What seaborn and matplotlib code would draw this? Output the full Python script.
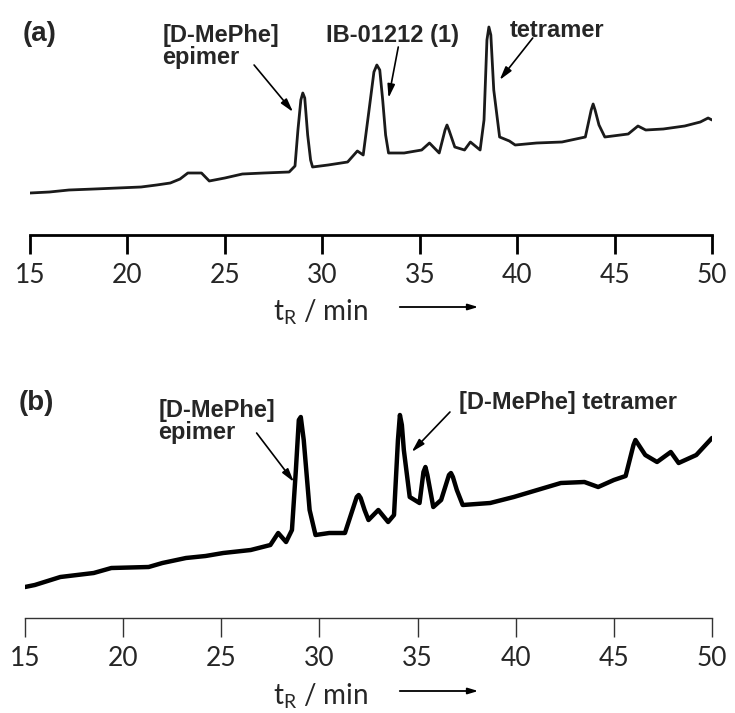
import matplotlib
matplotlib.use("Agg")
import matplotlib.pyplot as plt
from matplotlib.patches import FancyArrowPatch
import seaborn as sns

# 크로마토그램 데이터 (그림에서 읽은 값, 임의 단위)
t_a = [15.0, 16.0, 17.0, 18.3, 19.5, 20.7, 21.5, 22.2, 22.7, 23.1, 23.8, 24.2, 25.0, 25.9,
       27.0, 28.3, 28.6, 28.75, 28.9, 29.0, 29.1, 29.25, 29.4, 29.5, 30.3, 31.3, 31.8, 32.1,
       32.4, 32.65, 32.8, 32.95, 33.1, 33.25, 33.4, 34.2, 35.1, 35.5, 36.0, 36.3, 36.4, 36.5,
       36.8, 37.3, 37.6, 38.1, 38.3, 38.45, 38.55, 38.65, 38.8, 39.1, 39.6, 39.9, 41.0, 42.3,
       43.5, 43.8, 43.9, 44.0, 44.2, 44.5, 45.7, 46.2, 46.6, 47.5, 48.6, 49.4, 49.8, 50.0]
sig_a = [7, 8, 10, 11, 12, 13, 15, 17, 21, 27, 27, 19, 22, 26,
         27, 28, 34, 70, 100, 107, 102, 65, 40, 33, 35, 38, 49, 45,
         90, 128, 135, 130, 100, 65, 47, 47, 50, 57, 47, 70, 75, 70,
         53, 50, 58, 50, 80, 160, 173, 165, 110, 63, 59, 55, 57, 58,
         63, 90, 96, 90, 75, 63, 66, 74, 70, 71, 74, 78, 82, 80]

t_b = [15.0, 15.5, 16.8, 18.5, 19.4, 21.3, 22.0, 23.2, 24.2, 25.1, 26.5, 27.5, 27.9, 28.3,
       28.6, 28.8, 28.95, 29.05, 29.2, 29.5, 29.8, 30.5, 31.3, 31.6, 31.9, 32.0, 32.1, 32.3,
       32.5, 33.0, 33.5, 33.8, 34.0, 34.1, 34.2, 34.3, 34.6, 35.1, 35.3, 35.4, 35.5, 35.8,
       36.2, 36.6, 36.7, 36.8, 37.0, 37.3, 38.7, 39.9, 41.1, 42.3, 43.5, 44.2, 45.0, 45.6,
       46.0, 46.1, 46.6, 47.2, 47.9, 48.3, 49.2, 50.0]
sig_b = [13, 15, 23, 27, 32, 33, 37, 42, 44, 47, 50, 55, 67, 58,
         70, 130, 180, 183, 160, 90, 65, 67, 67, 85, 103, 105, 102, 90,
         80, 90, 78, 85, 160, 185, 175, 150, 103, 97, 128, 133, 125, 93,
         100, 125, 127, 123, 110, 95, 97, 103, 110, 117, 118, 113, 120, 124,
         155, 160, 145, 138, 148, 137, 145, 162]

x_ticks = [15, 20, 25, 30, 35, 40, 45, 50]

PANEL_FONT = ["Liberation Sans", "DejaVu Sans"]
TICK_FONT = ["Lato", "DejaVu Sans"]

sns.set_style("white")
plt.rcParams["font.family"] = TICK_FONT

W, H = 735, 713
fig = plt.figure(figsize=(W / 100, H / 100), dpi=100)
ax_a = fig.add_axes([30 / W, (H - 235) / H, 682 / W, 225 / H])
ax_b = fig.add_axes([25 / W, (H - 618) / H, 687 / W, 268 / H])


def style_axis(ax, ylim, spine_lw, color):
    ax.set_xlim(15, 50)
    ax.set_ylim(*ylim)
    sns.despine(ax=ax, left=True)
    ax.spines["bottom"].set_linewidth(spine_lw)
    ax.spines["bottom"].set_color(color)
    ax.set_yticks([])
    ax.set_xticks(x_ticks)
    ax.tick_params(axis="x", direction="out", length=14, width=spine_lw,
                   color=color, labelsize=19, pad=6, bottom=True)
    ax.set_xlabel("")
    ax.set_ylabel("")
    ax.patch.set_alpha(0)


def label(ax, x, y, s, size=17):
    ax.text(x, y, s, fontsize=size, fontweight="bold", family=PANEL_FONT,
            va="top", ha="left", linespacing=0.95)


def arrow(ax, tail, tip):
    ax.annotate("", xy=tip, xytext=tail,
                arrowprops=dict(arrowstyle="-|>,head_length=0.8,head_width=0.22",
                                color="black", lw=1.2, shrinkA=0, shrinkB=0))


# (a)
sns.lineplot(x=t_a, y=sig_a, ax=ax_a, color="#1a1a1a", linewidth=2.0, estimator=None)
style_axis(ax_a, (-35, 190), 2.0, "black")
label(ax_a, 14.6, 179, "(a)", size=20)
label(ax_a, 21.8, 176, "[D-MePhe]\nepimer")
arrow(ax_a, (26.5, 135), (28.5, 88))
label(ax_a, 30.2, 176, "IB-01212 (1)")
arrow(ax_a, (33.9, 153), (33.4, 102))
label(ax_a, 39.6, 181, "tetramer")
arrow(ax_a, (40.8, 162), (39.1, 120))

# (b)
sns.lineplot(x=t_b, y=sig_b, ax=ax_b, color="black", linewidth=3.2, estimator=None)
style_axis(ax_b, (-18, 250), 1.0, "#333333")
label(ax_b, 14.7, 210, "(b)", size=20)
label(ax_b, 21.8, 201, "[D-MePhe]\nepimer")
arrow(ax_b, (26.8, 167), (28.7, 118))
label(ax_b, 37.1, 209, "[D-MePhe] tetramer")
arrow(ax_b, (36.65, 188), (34.7, 148))

# t_R / min 라벨과 화살표
for base_px, arr_px in ((320, 307), (704, 691)):
    fig.text(321 / W, 1 - base_px / H, r"t$_\mathregular{R}$ / min", fontsize=20,
             ha="center", va="baseline")
    fig.add_artist(FancyArrowPatch(
        (397 / W, 1 - arr_px / H), (481 / W, 1 - arr_px / H),
        transform=fig.transFigure, arrowstyle="-|>,head_length=0.6,head_width=0.18",
        color="black", lw=1.3, mutation_scale=10))

fig.savefig("out.png", dpi=100, facecolor="white")
